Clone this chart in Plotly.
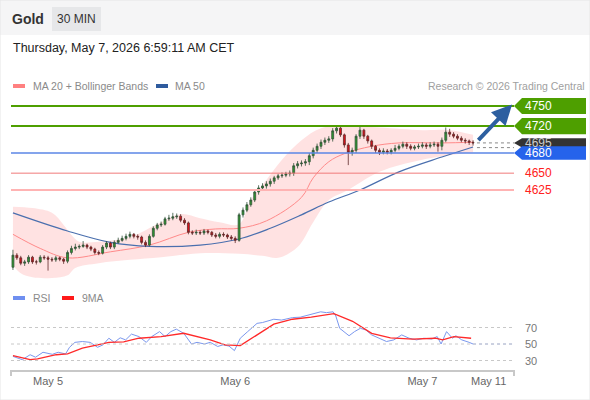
import plotly.graph_objects as go

W, H = 590, 400

# --- price data, 30 min candles ---
opens = [4510, 4528, 4524, 4516, 4518, 4525, 4518, 4518, 4525, 4524,
         4522, 4521, 4524, 4522, 4519, 4532, 4538, 4540, 4541, 4543,
         4540, 4537, 4532, 4531, 4540, 4546, 4540, 4547, 4550, 4553,
         4556, 4559, 4556, 4555, 4547, 4543, 4556, 4568, 4573, 4574,
         4582, 4583, 4585, 4586, 4580, 4576, 4562, 4561, 4562, 4561,
         4564, 4562, 4558, 4556, 4559, 4558, 4555, 4553, 4550, 4588,
         4595, 4603, 4610, 4622, 4628, 4631, 4634, 4638, 4643, 4646,
         4647, 4649, 4650, 4661, 4664, 4665, 4667, 4676, 4684, 4690,
         4696, 4699, 4701, 4713, 4717, 4707, 4692, 4681, 4684, 4705,
         4714, 4705, 4698, 4690, 4684, 4681, 4683, 4681, 4684, 4687,
         4690, 4693, 4690, 4687, 4689, 4690, 4692, 4690, 4692, 4693,
         4690, 4699, 4711, 4708, 4705, 4702, 4699, 4698, 4696]
closes = [4528, 4524, 4516, 4518, 4525, 4518, 4518, 4525, 4524, 4522,
          4521, 4524, 4522, 4519, 4532, 4538, 4540, 4541, 4543, 4540,
          4537, 4532, 4531, 4540, 4546, 4540, 4547, 4550, 4553, 4556,
          4559, 4556, 4555, 4547, 4543, 4556, 4568, 4573, 4574, 4582,
          4583, 4585, 4586, 4580, 4576, 4562, 4561, 4562, 4561, 4564,
          4562, 4558, 4556, 4559, 4558, 4555, 4553, 4550, 4588, 4595,
          4603, 4610, 4622, 4628, 4631, 4634, 4638, 4643, 4646, 4647,
          4649, 4650, 4661, 4664, 4665, 4667, 4676, 4684, 4690, 4696,
          4699, 4701, 4713, 4717, 4707, 4692, 4681, 4684, 4705, 4714,
          4705, 4698, 4690, 4684, 4681, 4683, 4681, 4684, 4687, 4690,
          4693, 4690, 4687, 4689, 4690, 4692, 4690, 4692, 4693, 4690,
          4699, 4711, 4708, 4705, 4702, 4699, 4698, 4696, 4695]
highs = [4536, 4531, 4527, 4521, 4528, 4527, 4521, 4528, 4528, 4527,
         4525, 4527, 4526, 4524, 4535, 4542, 4545, 4544, 4549, 4545,
         4542, 4539, 4535, 4543, 4549, 4548, 4550, 4554, 4557, 4560,
         4563, 4561, 4559, 4557, 4550, 4559, 4571, 4576, 4578, 4585,
         4588, 4591, 4590, 4589, 4583, 4578, 4565, 4566, 4565, 4567,
         4566, 4564, 4561, 4562, 4562, 4560, 4558, 4556, 4591, 4599,
         4607, 4614, 4626, 4632, 4635, 4638, 4642, 4646, 4649, 4651,
         4652, 4654, 4665, 4668, 4669, 4671, 4680, 4688, 4694, 4700,
         4703, 4705, 4717, 4721, 4720, 4709, 4695, 4688, 4708, 4720,
         4716, 4707, 4700, 4692, 4687, 4687, 4686, 4687, 4692, 4693,
         4697, 4696, 4693, 4692, 4694, 4696, 4695, 4696, 4697, 4696,
         4703, 4718, 4716, 4711, 4708, 4705, 4702, 4700, 4699]
lows = [4506, 4521, 4513, 4512, 4515, 4515, 4514, 4516, 4521, 4505,
        4518, 4518, 4519, 4515, 4516, 4529, 4535, 4537, 4539, 4537,
        4534, 4529, 4528, 4529, 4537, 4537, 4537, 4545, 4548, 4550,
        4553, 4553, 4551, 4544, 4540, 4541, 4554, 4565, 4570, 4572,
        4579, 4580, 4582, 4577, 4573, 4559, 4558, 4558, 4558, 4558,
        4559, 4555, 4553, 4553, 4555, 4552, 4550, 4546, 4548, 4584,
        4592, 4600, 4607, 4618, 4624, 4627, 4630, 4634, 4640, 4643,
        4644, 4645, 4646, 4657, 4660, 4661, 4662, 4672, 4680, 4686,
        4692, 4695, 4697, 4709, 4704, 4688, 4662, 4676, 4680, 4701,
        4701, 4694, 4686, 4680, 4677, 4678, 4678, 4678, 4681, 4684,
        4687, 4686, 4684, 4684, 4686, 4687, 4686, 4687, 4689, 4682,
        4684, 4696, 4704, 4702, 4699, 4696, 4694, 4692, 4691]

# moving averages and bands, sampled along the candle index
ma50_x = [0, 14, 25, 35, 48, 58, 66, 74, 81, 89, 99, 110, 118]
ma50 = [4591, 4564, 4547, 4541, 4543, 4552, 4568, 4588, 4607, 4625, 4652, 4674, 4689]
ma20_x = [0, 7, 14, 25, 35, 45, 52, 58, 65, 74, 77, 81, 85, 92, 99, 110, 118]
ma20 = [4559, 4538, 4524, 4533, 4543, 4562, 4567, 4568, 4579, 4614, 4643, 4667, 4679,
        4690, 4695, 4695, 4696]
bb_up_x = [0, 5, 10, 13, 15, 17, 22, 30, 38, 43, 48, 53, 58, 61, 65, 69, 74, 79, 86, 94, 105, 112, 118]
bb_up = [4600, 4598, 4591, 4573, 4558, 4548, 4548, 4555, 4577, 4589, 4583, 4577, 4574,
         4610, 4640, 4670, 4699, 4717, 4720, 4718, 4714, 4714, 4707]
bb_lo_x = [0, 2, 5, 10, 14, 16, 22, 30, 38, 48, 58, 64, 68, 73, 77, 81, 86, 94, 105, 118]
bb_lo = [4513, 4501, 4495, 4494, 4498, 4509, 4516, 4521, 4525, 4531, 4530, 4527, 4524,
         4540, 4577, 4610, 4625, 4652, 4670, 4681]

# RSI panel
rsi_x = [0, 2.4, 4.4, 5.8, 7.7, 10.1, 11.6, 13.5, 14.5, 15.9, 17.8, 19.8, 21.7, 23.1,
         24.6, 26, 27.5, 28.9, 30.4, 32.3, 34.2, 35.6, 37.6, 39, 40.5, 41.9, 43.8,
         45.8, 47.2, 49.1, 50.6, 52.5, 53.9, 55.4, 56.8, 58.3, 60.2, 62.6, 64, 66.9,
         68.9, 71.7, 73.7, 76.5, 78.9, 80.4, 82.1, 82.8, 83.8, 86.2, 87.6, 89.1, 90.5,
         92, 93.9, 95.8, 97.7, 99.7, 101.6, 103.5, 105.4, 107.4, 108.8, 109.8, 111.2,
         112.7, 113.6, 115.1, 117, 118]
rsi = [35, 31, 37, 34, 40, 37.5, 40, 38, 46, 52, 53, 52, 46, 49,
       57, 52, 57.5, 55, 62, 59, 52, 59, 65, 59, 65, 68, 63,
       50, 52, 50, 52, 47, 49, 47.5, 42, 57, 65, 75, 76, 80,
       79, 82, 82.5, 86, 89, 88, 89, 84, 69, 60, 65, 69, 67,
       61, 57, 53, 55, 61, 57, 55, 57, 56, 59, 50, 65,
       57, 60, 55, 52, 50]
rsi_ext_x = [118, 128.5]
rsi_ext = [50, 50]
ma9_x = [0, 4.4, 6.3, 11.1, 14, 17.8, 21.7, 24.6, 28.4, 32.3, 38, 43.8, 50.6, 54.4,
         58.3, 64, 66.9, 71.7, 76.5, 82.3, 87.1, 92, 96.8, 102.5, 108.3, 110.2, 113.1, 117.5]
ma9 = [36, 31, 32, 37, 38, 45, 49, 52, 52.5, 57, 59, 63, 55, 49,
       48, 65, 74, 80, 82.5, 86.7, 77.5, 63, 57.5, 56, 57, 55, 59, 57]

date_ticks = [9, 57, 105, 122]
date_labels = ['May 5', 'May 6', 'May 7', 'May 11']

resist = [4750, 4720]
pivot = 4680
support = [4650, 4625]
last_price = 4695
dotted_levels = [4695, 4688]
arrow_from = (119, 4697)
arrow_to = (128, 4752)

PRICE_RANGE = [4483.6, 4766.3]


def px(x):
    return x / W


def py(y):
    return 1 - y / H


x_idx = list(range(len(closes)))
FONT = 'Liberation Sans, Arial, sans-serif'

fig = go.Figure()

# bollinger band fill + averages on the base price axis
fig.add_trace(go.Scatter(x=bb_up_x, y=bb_up, mode='lines', line=dict(width=0, shape='spline'),
                         hoverinfo='skip', showlegend=False))
fig.add_trace(go.Scatter(x=bb_lo_x, y=bb_lo, mode='lines', line=dict(width=0, shape='spline'),
                         fill='tonexty', fillcolor='rgba(255,190,190,0.45)',
                         hoverinfo='skip', showlegend=False))
fig.add_trace(go.Scatter(x=ma20_x, y=ma20, mode='lines',
                         line=dict(color='#ff8a8a', width=1, shape='spline'), showlegend=False))
fig.add_trace(go.Scatter(x=ma50_x, y=ma50, mode='lines',
                         line=dict(color='#4a6fae', width=1.2, shape='spline'), showlegend=False))

# candles on an overlaid twin axis so they sit above the band fill
fig.add_trace(go.Candlestick(
    x=x_idx, open=opens, high=highs, low=lows, close=closes, yaxis='y3',
    increasing=dict(fillcolor='#2e9b2e', line=dict(color='#33503a', width=0.8)),
    decreasing=dict(fillcolor='#e3101a', line=dict(color='#5e2a2a', width=0.8)),
    whiskerwidth=0, showlegend=False))

# rsi panel
fig.add_trace(go.Scatter(x=rsi_x, y=rsi, mode='lines', line=dict(color='#7b98ee', width=1),
                         xaxis='x2', yaxis='y2', showlegend=False))
fig.add_trace(go.Scatter(x=rsi_ext_x, y=rsi_ext, mode='lines',
                         line=dict(color='#9fb4f2', width=1, dash='dot'),
                         xaxis='x2', yaxis='y2', showlegend=False))
fig.add_trace(go.Scatter(x=ma9_x, y=ma9, mode='lines', line=dict(color='#ff2a2a', width=1.3),
                         xaxis='x2', yaxis='y2', showlegend=False))

shapes = []
ann = []


def label(text, x, y, size, color, anchor='left', yref='paper'):
    ann.append(dict(text=text, x=x, y=y, xref='paper', yref=yref, xanchor=anchor,
                    yanchor='middle', showarrow=False, borderpad=0,
                    font=dict(size=size, color=color)))


# header band
shapes.append(dict(type='rect', xref='paper', yref='paper', x0=0, x1=1, y0=py(35), y1=1,
                   fillcolor='#f5f5f6', line=dict(width=0), layer='below'))
shapes.append(dict(type='rect', xref='paper', yref='paper', x0=px(52), x1=px(101), y0=py(31), y1=py(7),
                   fillcolor='#e6e7e9', line=dict(width=0), layer='below'))
shapes.append(dict(type='rect', xref='paper', yref='paper', x0=0, x1=1, y0=0, y1=1,
                   line=dict(color='#e6e6e6', width=1)))
label('<b>Gold</b>', px(11), py(19), 14, '#333333')
label('30 MIN', px(76.5), py(19), 12, '#333333', 'center')
label('Thursday, May 7, 2026 6:59:11 AM CET', px(12), py(48), 12.5, '#222222')

# legends
shapes.append(dict(type='rect', xref='paper', yref='paper', x0=px(13), x1=px(25), y0=py(88), y1=py(84),
                   fillcolor='#ff8080', line=dict(width=0)))
shapes.append(dict(type='rect', xref='paper', yref='paper', x0=px(156), x1=px(168), y0=py(88), y1=py(84),
                   fillcolor='#2f5b9e', line=dict(width=0)))
label('MA 20 + Bollinger Bands', px(32), py(86), 10.5, '#8a8a8a')
label('MA 50', px(174), py(86), 10.5, '#8a8a8a')
label('Research © 2026 Trading Central', px(586), py(86), 10.5, '#a0a0a0', 'right')
shapes.append(dict(type='rect', xref='paper', yref='paper', x0=px(13), x1=px(25), y0=py(300), y1=py(296),
                   fillcolor='#6f8ff0', line=dict(width=0)))
shapes.append(dict(type='rect', xref='paper', yref='paper', x0=px(62), x1=px(74), y0=py(300), y1=py(296),
                   fillcolor='#ff1a1a', line=dict(width=0)))
label('RSI', px(32), py(298), 10.5, '#8a8a8a')
label('9MA', px(81), py(298), 10.5, '#8a8a8a')


def tag(level, color, txt_color, half=11):
    x0, x1, x2 = px(514), px(522), px(586)
    path = 'M {a},{l} L {b},{t} L {c},{t} L {c},{d} L {b},{d} Z'.format(
        a=x0, b=x1, c=x2, l=level, t=level + half, d=level - half)
    shapes.append(dict(type='path', xref='paper', yref='y', path=path, fillcolor=color,
                       line=dict(width=0)))
    label(str(level), px(524), level, 12, txt_color, yref='y')


for lv in resist:
    shapes.append(dict(type='line', xref='x domain', yref='y', x0=0, x1=1, y0=lv, y1=lv,
                       line=dict(color='#4e9f00', width=2)))
for lv in dotted_levels:
    shapes.append(dict(type='line', xref='x', yref='y', x0=len(closes), x1=128.5, y0=lv, y1=lv,
                       line=dict(color='#888888', width=1, dash='dot')))
shapes.append(dict(type='line', xref='x domain', yref='y', x0=0, x1=1, y0=pivot, y1=pivot,
                   line=dict(color='#5b86e6', width=1.5)))
shapes.append(dict(type='line', xref='x domain', yref='y', x0=0, x1=1, y0=support[0], y1=support[0],
                   line=dict(color='#f07a7a', width=1)))
shapes.append(dict(type='line', xref='x domain', yref='y', x0=0, x1=1, y0=support[1], y1=support[1],
                   line=dict(color='#ffb3b3', width=2)))

for lv in resist:
    tag(lv, '#4e9f00', 'white', 12)
tag(last_price, '#333333', '#cccccc', 7)
tag(pivot, '#2563eb', 'white', 10)
for lv in support:
    label(str(lv), px(524), lv, 12, '#ff2020', yref='y')

# forecast arrow
ann.append(dict(x=arrow_to[0], y=arrow_to[1], ax=arrow_from[0], ay=arrow_from[1],
                xref='x', yref='y', axref='x', ayref='y', text='', showarrow=True,
                arrowhead=2, arrowsize=1, arrowwidth=4, arrowcolor='#2d5fa0'))

# rsi grid
for lv in [70, 50, 30]:
    shapes.append(dict(type='line', xref='x2 domain', yref='y2', x0=0, x1=1, y0=lv, y1=lv,
                       line=dict(color='#c8c8c8', width=1, dash='dot')))
    label(str(lv), px(524), lv, 11, '#777777', yref='y2')
for xe in [0, 1]:
    shapes.append(dict(type='line', xref='x2 domain', yref='paper', x0=xe, x1=xe, y0=py(370), y1=py(376),
                       line=dict(color='#c8c8c8', width=2)))

fig.update_layout(
    width=W, height=H, margin=dict(l=0, r=0, t=0, b=0),
    paper_bgcolor='white', plot_bgcolor='rgba(0,0,0,0)',
    font=dict(family=FONT), showlegend=False,
    xaxis=dict(domain=[px(11), px(514)], range=[-0.5, 128.5], visible=False,
               rangeslider=dict(visible=False), anchor='y'),
    yaxis=dict(domain=[py(285), py(95)], range=PRICE_RANGE, visible=False),
    yaxis3=dict(overlaying='y', range=PRICE_RANGE, visible=False),
    xaxis2=dict(domain=[px(11), px(514)], range=[-0.5, 128.5], anchor='y2',
                showline=True, linecolor='#c8c8c8', linewidth=2, showgrid=False, zeroline=False,
                tickvals=date_ticks, ticktext=date_labels, ticks='',
                tickfont=dict(size=11, color='#666666')),
    yaxis2=dict(domain=[py(370), py(310)], range=[18.5, 91.2], visible=False),
    shapes=shapes, annotations=ann,
)

# the page body has a default 8px margin, drop it so the figure fills the window
fig.write_html('out.html', config={'displayModeBar': False},
               post_script="document.body.style.margin='0';")
